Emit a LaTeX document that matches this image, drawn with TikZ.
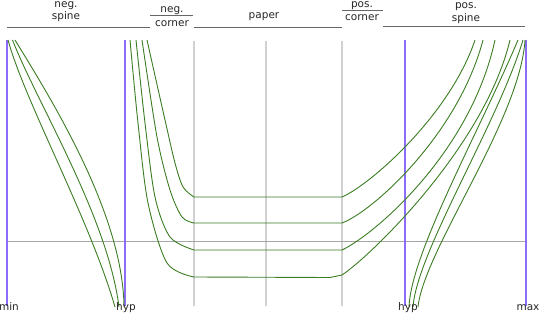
\documentclass[tikz,border=0pt]{standalone}
\usepackage{fontspec}
\setmainfont{DejaVu Sans}
\usepackage{xcolor}
\usepackage{tikz}
\definecolor{curvegreen}{HTML}{3A7D22}
\definecolor{boundpurple}{HTML}{8C6CF8}
\tikzset{
  plotcurve/.style={draw=curvegreen, line width=0.9pt},
  boundline/.style={draw=boundpurple, line width=1.1pt},
  gridline/.style={draw=black!18, line width=1.2pt},
  axisline/.style={draw=black!35, line width=1pt},
  headrule/.style={draw=black!60, line width=0.6pt},
  headlabel/.style={font=\fontsize{10.5}{12}\selectfont, text=black!85, anchor=base, inner sep=0pt}
}

\begin{document}
\begin{tikzpicture}[x=1pt, y=-1pt]
  \useasboundingbox (0,0) rectangle (540,320);

  % region guides
  \draw[gridline] (194,41) -- (194,306);
  \draw[gridline] (266,41) -- (266,306);
  \draw[gridline] (342,41) -- (342,306);
  \draw[axisline] (7,241) -- (526,241);
  \draw[boundline] (7,40) -- (7,306);
  \draw[boundline] (125,40) -- (125,306);
  \draw[boundline] (405,40) -- (405,306);
  \draw[boundline] (526,40) -- (526,306);

  % neg. spine
  \draw[plotcurve] (8,40) .. controls (25.7,103.5) and (89.8,219.5) .. (115,307);
  \draw[plotcurve] (12.5,40) .. controls (38,105) and (107.5,216.5) .. (119,307);
  \draw[plotcurve] (15,40) .. controls (55,105) and (123,216) .. (124,307);

  % corner + paper
  \draw[plotcurve] plot[smooth] coordinates {(147,40) (165,120) (175,163) (183,187) (194,197)}
    -- (342,197) .. controls (370,185) and (450,115) .. (475,40);
  \draw[plotcurve] plot[smooth] coordinates {(142,40) (157,137) (170,190) (182,217) (194,223)}
    -- (342,223) .. controls (372,212) and (458,135) .. (483,40);
  \draw[plotcurve] plot[smooth] coordinates {(136,40) (145,123) (155,197) (170,237) (194,250)}
    -- (342,250) .. controls (372,236) and (470,155) .. (495,40);
  \draw[plotcurve] plot[smooth] coordinates {(130,40) (138,123) (148,203) (167,263) (194,277)}
    -- (330,277.5) -- (342,275) .. controls (372,255) and (485,145) .. (510,40);

  % pos. spine
  \draw[plotcurve] (409,307) .. controls (411,253) and (480,130) .. (518,40);
  \draw[plotcurve] (413,307) .. controls (417,252) and (497,125) .. (523,40);
  \draw[plotcurve] (418,307) .. controls (424,250) and (520,120) .. (525,40);

  % headings
  \draw[headrule] (7,27.3) -- (150,27.3);
  \draw[headrule] (150,15.7) -- (193,15.7);
  \draw[headrule] (194,27.3) -- (342,27.3);
  \draw[headrule] (342,10.7) -- (383,10.7);
  \draw[headrule] (383,26.5) -- (525,26.5);

  \node[headlabel] (negspinetop) at (66,7.5) {neg.};
  \node[headlabel] (negspine) at (66,19.5) {spine};
  \node[headlabel] (negcornertop) at (172,12.3) {neg.};
  \node[headlabel] (negcorner) at (172,26.5) {corner};
  \node[headlabel] (paper) at (264,18.3) {paper};
  \node[headlabel] (poscornertop) at (362,7.3) {pos.};
  \node[headlabel] (poscorner) at (362,20.7) {corner};
  \node[headlabel] (posspinetop) at (466,8.5) {pos.};
  \node[headlabel] (posspine) at (466,21.7) {spine};

  % bounds
  \node[headlabel] (min) at (9,310) {min};
  \node[headlabel] (hypneg) at (126,310) {hyp};
  \node[headlabel] (hyppos) at (408,310) {hyp};
  \node[headlabel] (max) at (528,310) {max};
\end{tikzpicture}
\end{document}
